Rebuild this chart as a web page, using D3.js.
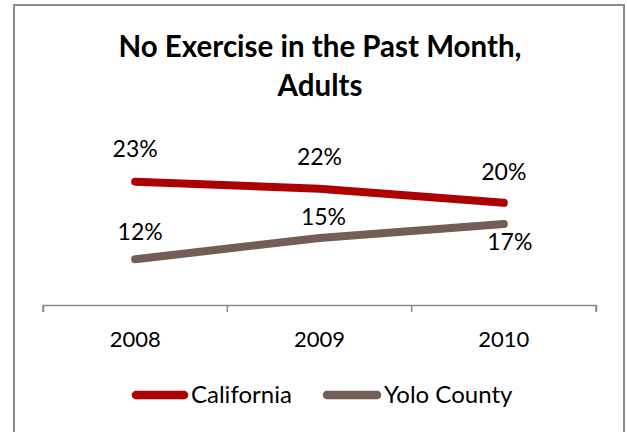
<!DOCTYPE html>
<html>
<head>
<meta charset="utf-8">
<script src="https://cdn.jsdelivr.net/npm/d3@7/dist/d3.min.js"></script>
<style>
  html, body { margin: 0; padding: 0; background: #fff; }
  svg { display: block; }
  text { font-family: Lato, "Noto Sans", sans-serif; fill: #000; }
</style>
</head>
<body>
<svg id="chart" width="627" height="432"></svg>
<script>
// ---- data ----
const categories = ["2008", "2009", "2010"];
const seriesNames = ["California", "Yolo County"];
const california = [23, 22, 20];
const yoloCounty = [12, 15, 17];
const titleLines = ["No Exercise in the Past Month,", "Adults"];

// ---- styling / layout ----
const colors = ["#AD0000", "#725E54"];
// label placement per series per point: [dx, dy] relative to point
const labelPlacement = [
  [[0, -25], [0, -24], [0, -23]],
  [[5, -19], [4, -13], [6, 26]]
];

const W = 627, H = 432;
const svg = d3.select("#chart");

// chart border
svg.append("rect")
  .attr("x", 14).attr("y", 5)
  .attr("width", 610).attr("height", 440)
  .attr("fill", "#fff")
  .attr("stroke", "#8c8c8c")
  .attr("stroke-width", 2);

// title
svg.append("g").selectAll("text")
  .data(titleLines).join("text")
  .attr("x", 320)
  .attr("y", (d, i) => 57 + i * 39)
  .attr("text-anchor", "middle")
  .attr("font-size", 29.5)
  .attr("font-weight", "bold")
  .text(d => d);

// scales
const axisY = 305;
const x = d3.scaleBand().domain(categories).range([43, 596]).padding(0);
const y = d3.scaleLinear().domain([5.5, 23]).range([axisY, 181.7]);

// x axis
const xAxis = d3.axisBottom(x).tickSize(7).tickSizeOuter(7).tickFormat(() => "");
const gx = svg.append("g").attr("transform", `translate(0,${axisY})`).call(xAxis);
gx.select(".domain").attr("stroke", "#898989").attr("stroke-width", 1.5);
gx.selectAll(".tick").remove();
// ticks at band boundaries
const boundaries = categories.map(c => x(c)).concat([x.range()[1]]);
gx.selectAll(".bt").data(boundaries).join("line")
  .attr("x1", d => d).attr("x2", d => d)
  .attr("y1", 0).attr("y2", 7)
  .attr("stroke", "#898989").attr("stroke-width", 1.5);

svg.append("g").selectAll("text")
  .data(categories).join("text")
  .attr("x", d => x(d) + x.bandwidth() / 2)
  .attr("y", 347)
  .attr("text-anchor", "middle")
  .attr("font-size", 22)
  .text(d => d);

// lines
const seriesData = [california, yoloCounty];
const line = d3.line()
  .x((d, i) => x(categories[i]) + x.bandwidth() / 2)
  .y(d => y(d));

seriesData.forEach((vals, s) => {
  svg.append("path")
    .datum(vals)
    .attr("d", line)
    .attr("fill", "none")
    .attr("stroke", colors[s])
    .attr("stroke-width", 8)
    .attr("stroke-linecap", "round")
    .attr("stroke-linejoin", "round");
});

// data labels
seriesData.forEach((vals, s) => {
  svg.append("g").selectAll("text")
    .data(vals).join("text")
    .attr("x", (d, i) => x(categories[i]) + x.bandwidth() / 2 + labelPlacement[s][i][0])
    .attr("y", (d, i) => y(d) + labelPlacement[s][i][1])
    .attr("text-anchor", "middle")
    .attr("font-size", 23)
    .text(d => d + "%");
});

// legend
const legendItems = [
  { x0: 132, x1: 188, tx: 191 },
  { x0: 323, x1: 381, tx: 384 }
];
const lg = svg.append("g");
seriesNames.forEach((name, s) => {
  const it = legendItems[s];
  lg.append("line")
    .attr("x1", it.x0 + 4).attr("x2", it.x1 - 4)
    .attr("y1", 395).attr("y2", 395)
    .attr("stroke", colors[s])
    .attr("stroke-width", 8.5)
    .attr("stroke-linecap", "round");
  lg.append("text")
    .attr("x", it.tx).attr("y", 403)
    .attr("font-size", 24)
    .text(name);
});
</script>
</body>
</html>
